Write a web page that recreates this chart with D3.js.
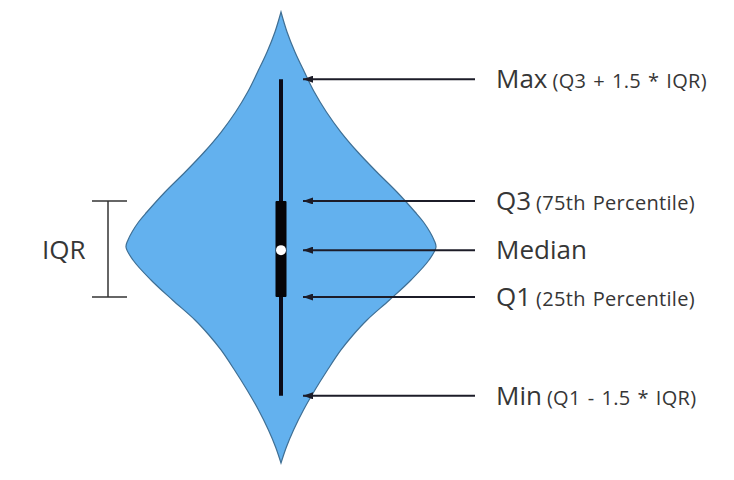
<!DOCTYPE html>
<html>
<head>
<meta charset="utf-8">
<script src="https://cdn.jsdelivr.net/npm/d3@7"></script>
<style>
  body { margin: 0; background: #fff; }
  text { font-family: "Open Sans", sans-serif; fill: #363636; }
</style>
</head>
<body>
<div class="chart"></div>
<script>
var svgWidth = 734;
var svgHeight = 480;

// density profile: value (0 = bottom tip, 100 = top tip) and relative density
var profileValues = [0, 3.55, 7.32, 11.75, 16.19, 20.62, 25.06, 28.38, 31.71, 36.14, 40.58, 45.01, 47.89,
  49.45, 51.22, 53.44, 55.65, 60.09, 64.52, 68.96, 73.39, 77.83, 82.26, 86.7, 91.13, 95.57, 100];
var profileDensity = [0, 3.5, 8.1, 14.5, 21.9, 30, 38.7, 46.5, 55.5, 70, 83.9, 95.5, 100,
  98.7, 96.1, 91.9, 86.5, 74.8, 61.8, 49.5, 38.6, 29.3, 21.5, 15.1, 9, 3.9, 0];

// summary stats on the same value axis
var statNames = ["Max", "Q3", "Median", "Q1", "Min"];
var statNotes = ["(Q3 + 1.5 * IQR)", "(75th Percentile)", "", "(25th Percentile)", "(Q1 - 1.5 * IQR)"];
var statValues = [85.1, 58.1, 47.2, 36.8, 14.9];

var centerX = 281;

var svg = d3.select(".chart")
  .append("svg")
  .attr("width", svgWidth)
  .attr("height", svgHeight);

var yScale = d3.scaleLinear()
  .domain([0, 100])
  .range([463, 12]);

var wScale = d3.scaleLinear()
  .domain([0, 100])
  .range([0, 155]);

var profile = profileValues.map(function(v, i) {
  return { value: v, density: profileDensity[i] };
});

// violin body
var area = d3.area()
  .y(d => yScale(d.value))
  .x0(d => centerX - wScale(d.density))
  .x1(d => centerX + wScale(d.density))
  .curve(d3.curveCatmullRom.alpha(0.5));

svg.append("path")
  .datum(profile)
  .attr("d", area)
  .attr("fill", "#63b1ee")
  .attr("stroke", "#3f6f94")
  .attr("stroke-width", 1.2);

var stats = {};
statNames.forEach(function(n, i) { stats[n] = statValues[i]; });

// whisker
svg.append("line")
  .attr("x1", centerX).attr("x2", centerX)
  .attr("y1", yScale(stats.Max))
  .attr("y2", yScale(stats.Min))
  .attr("stroke", "#0b0b18")
  .attr("stroke-width", 4);

// box
svg.append("rect")
  .attr("x", centerX - 5.5)
  .attr("width", 11)
  .attr("y", yScale(stats.Q3))
  .attr("height", yScale(stats.Q1) - yScale(stats.Q3))
  .attr("rx", 1)
  .attr("fill", "#050508");

// median dot
svg.append("circle")
  .attr("cx", centerX)
  .attr("cy", yScale(stats.Median))
  .attr("r", 5)
  .attr("fill", "#fff");

// arrow marker
svg.append("defs").append("marker")
  .attr("id", "head")
  .attr("viewBox", "0 0 10 7")
  .attr("refX", 10)
  .attr("refY", 3.5)
  .attr("markerWidth", 5)
  .attr("markerHeight", 3.5)
  .attr("orient", "auto")
  .attr("markerUnits", "strokeWidth")
  .append("path")
  .attr("d", "M0,0L10,3.5L0,7Z")
  .attr("fill", "#1c1c28");

var labels = svg.selectAll(".stat")
  .data(statNames)
  .enter()
  .append("g")
  .attr("class", "stat")
  .attr("transform", d => `translate(0, ${yScale(stats[d])})`);

labels.append("line")
  .attr("x1", 475)
  .attr("x2", 303)
  .attr("y1", 0).attr("y2", 0)
  .attr("stroke", "#1c1c28")
  .attr("stroke-width", 2)
  .attr("marker-end", "url(#head)");

var txt = labels.append("text")
  .attr("x", 496)
  .attr("dy", 9);

txt.append("tspan")
  .style("font-size", "26px")
  .text(d => d);

txt.append("tspan")
  .style("font-size", "20px")
  .style("letter-spacing", "0.3px")
  .style("word-spacing", "1.5px")
  .attr("dx", 5)
  .text((d, i) => statNotes[i]);

// IQR bracket
var iqr = svg.append("g")
  .attr("stroke", "#333")
  .attr("stroke-width", 1.5);

iqr.append("line")
  .attr("x1", 108).attr("x2", 108)
  .attr("y1", yScale(stats.Q3)).attr("y2", yScale(stats.Q1));
iqr.append("line")
  .attr("x1", 92).attr("x2", 127)
  .attr("y1", yScale(stats.Q3)).attr("y2", yScale(stats.Q3));
iqr.append("line")
  .attr("x1", 92).attr("x2", 127)
  .attr("y1", yScale(stats.Q1)).attr("y2", yScale(stats.Q1));

svg.append("text")
  .attr("x", 42)
  .attr("y", yScale(stats.Median) + 9)
  .style("font-size", "26px")
  .text("IQR");
</script>
</body>
</html>
